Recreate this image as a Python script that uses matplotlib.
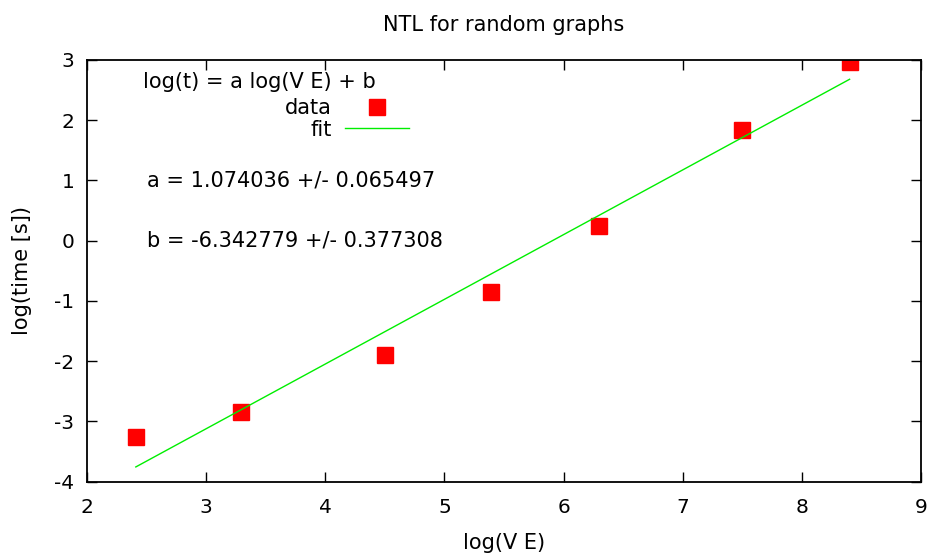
import numpy as np
from matplotlib import pyplot as plt

# log(V E) and log(time)
log_ve = [2.41, 3.29, 4.50, 5.39, 6.30, 7.50, 8.40]
log_t = [-3.26, -2.85, -1.90, -0.85, 0.24, 1.84, 2.97]

# fit parameters
a, a_err = 1.074036, 0.065497
b, b_err = -6.342779, 0.377308

xticks = [2, 3, 4, 5, 6, 7, 8, 9]
yticks = [-4, -3, -2, -1, 0, 1, 2, 3]

plt.rcParams['font.family'] = ['DejaVu Sans']
plt.rcParams['axes.unicode_minus'] = False
fs = 15

fig = plt.figure(figsize=(9.32, 5.55), dpi=100)
ax = fig.add_axes([0.0933, 0.132, 0.895, 0.760])

ax.plot(log_ve, log_t, 's', color='#ff0000', markersize=12, label='data')
x_fit = np.array([min(log_ve), max(log_ve)])
ax.plot(x_fit, a * x_fit + b, '-', color='#00ee00', lw=1.0, label='fit')

ax.set_xlim(2, 9)
ax.set_ylim(-4, 3)
ax.set_xticks(xticks)
ax.set_yticks(yticks)
ax.tick_params(direction='in', length=7, width=1, top=True, right=True,
               labelsize=14.5)
ax.tick_params(axis='x', pad=12)
ax.tick_params(axis='y', pad=9)
for s in ax.spines.values():
    s.set_linewidth(1.3)

ax.set_title('NTL for random graphs', fontsize=fs, pad=21)
ax.set_xlabel('log(V E)', fontsize=fs, labelpad=11)
ax.set_ylabel('log(time [s])', fontsize=fs, labelpad=16)

leg = ax.legend(loc='center', bbox_to_anchor=(0.312, 0.860), frameon=False,
                markerfirst=False, fontsize=fs, handlelength=3.1,
                handletextpad=0.63, labelspacing=0.05, borderpad=0)
ax.text(2.47, 2.63, 'log(t) = a log(V E) + b', fontsize=fs, va='center')
ax.text(2.5, 1.0, 'a = %f +/- %f' % (a, a_err), fontsize=fs, va='center')
ax.text(2.5, 0.0, 'b = %f +/- %f' % (b, b_err), fontsize=fs, va='center')

fig.savefig('out.png', dpi=100)
